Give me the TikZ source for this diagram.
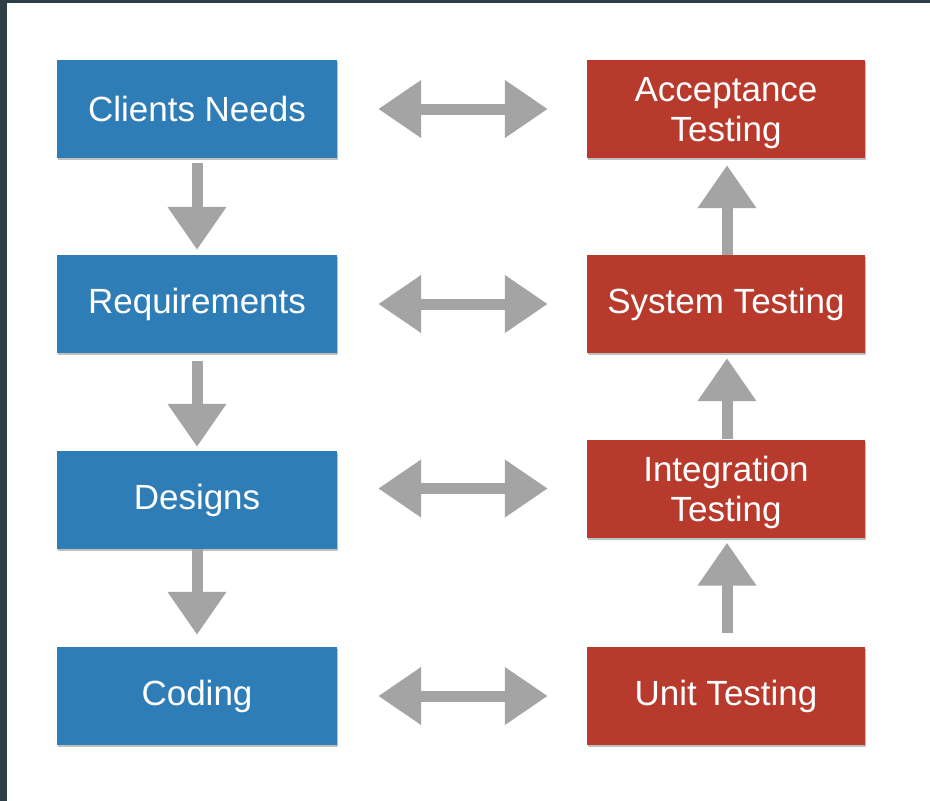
\documentclass[tikz,border=0pt]{standalone}
\usepackage{fontspec}
\setmainfont{Liberation Sans}
\usetikzlibrary{arrows.meta,shadows}
\definecolor{frame}{HTML}{2E3E48}
\definecolor{devblue}{HTML}{2F7DB6}
\definecolor{testred}{HTML}{B83A2D}
\definecolor{sketch}{HTML}{A4A4A4}
\newcommand{\lineone}{\rule{0pt}{33pt}}
\tikzset{
  stage/.style={minimum width=280pt, minimum height=98pt, inner sep=0pt,
    text=white, align=center,
    font=\fontsize{35}{40}\selectfont,
    drop shadow={shadow xshift=1pt, shadow yshift=-2pt, opacity=0.25, fill=black}},
  devbox/.style={stage, fill=devblue},
  testbox/.style={stage, fill=testred, minimum width=278pt},
  flow/.style={draw=sketch, line width=11pt,
    -{Triangle[width=56pt,length=43pt]}},
  link/.style={draw=sketch, line width=11pt,
    {Triangle[width=55pt,length=43pt]}-{Triangle[width=55pt,length=43pt]}},
}
\begin{document}
\begin{tikzpicture}[x=1pt,y=-1pt]
  \useasboundingbox (0,0) rectangle (930,801);
  \fill[white] (0,0) rectangle (930,801);
  \fill[frame] (0,0) rectangle (7,801);
  \fill[frame] (0,0) rectangle (930,3);

  % development side
  \node[devbox] (cn) at (197,109) {Clients Needs};
  \node[devbox] (rq) at (197,304) {Requirements};
  \node[devbox] (ds) at (197,500) {Designs};
  \node[devbox] (cd) at (197,696) {Coding};

  % testing side
  \node[testbox] (at) at (726,109) {\lineone Acceptance\\Testing};
  \node[testbox] (st) at (726,304) {System Testing};
  \node[testbox] (it) at (726,488.5) {\lineone Integration\\Testing};
  \node[testbox] (ut) at (726,696) {Unit Testing};

  % downward flow
  \draw[flow, shorten <=5pt, shorten >=5pt] (cn.south) -- (rq.north);
  \draw[flow, shorten <=8pt, shorten >=4pt] (rq.south) -- (ds.north);
  \draw[flow, shorten <=0pt, shorten >=12pt] (ds.south) -- (cd.north);

  % upward flow
  \draw[flow, shorten <=14pt, shorten >=5pt] ([xshift=1pt]ut.north) -- ([xshift=1pt]it.south);
  \draw[flow, shorten <=0pt, shorten >=5pt] ([xshift=1pt]it.north) -- ([xshift=1pt]st.south);
  \draw[flow, shorten <=0pt, shorten >=7pt] ([xshift=1pt]st.north) -- ([xshift=1pt]at.south);

  % verification links
  \draw[link, shorten <=41pt, shorten >=39pt] (cn.east) -- (at.west);
  \draw[link, shorten <=41pt, shorten >=39pt] (rq.east) -- (st.west);
  \draw[link, shorten <=41pt, shorten >=39pt] (ds.east |- it.west) -- (it.west);
  \draw[link, shorten <=41pt, shorten >=39pt] (cd.east) -- (ut.west);
\end{tikzpicture}
\end{document}
